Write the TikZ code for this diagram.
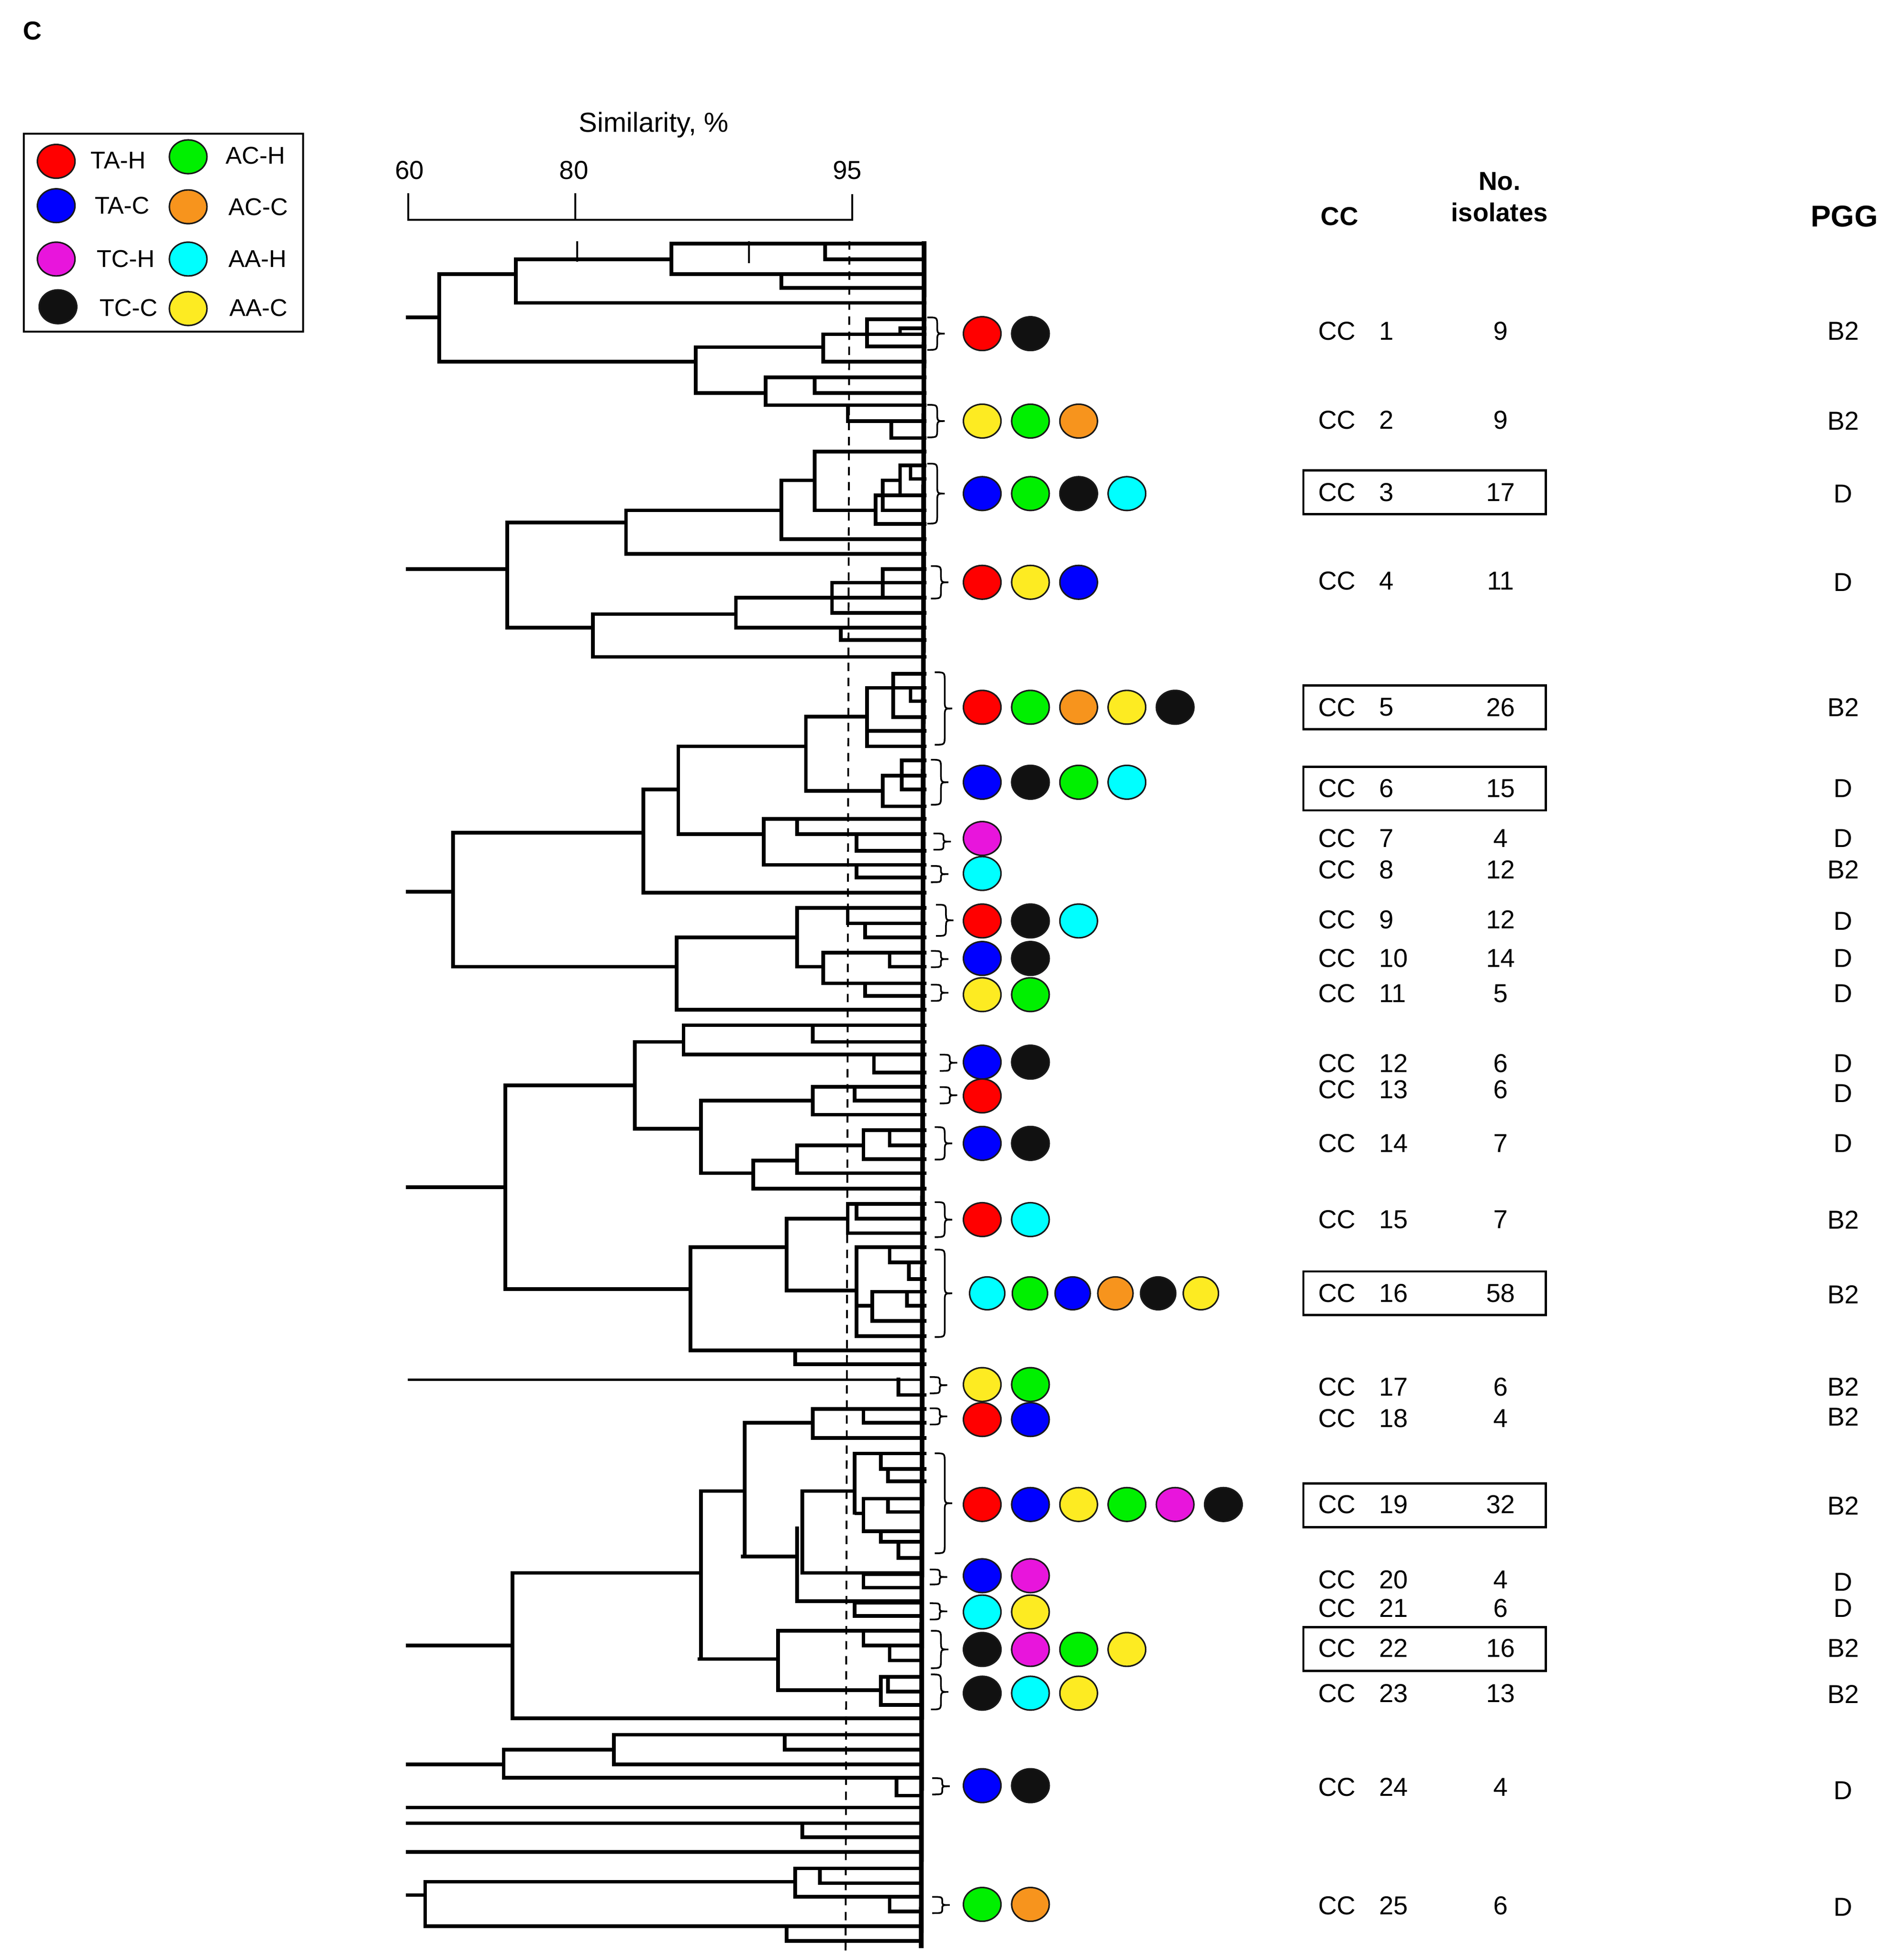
\documentclass[tikz,border=0pt]{standalone}
\usepackage{fontspec}
\setmainfont{Liberation Sans}
\usetikzlibrary{shapes.geometric}
\definecolor{tah}{RGB}{255,0,0}
\definecolor{tac}{RGB}{0,0,255}
\definecolor{tch}{RGB}{232,21,220}
\definecolor{tcc}{RGB}{17,17,17}
\definecolor{ach}{RGB}{0,240,0}
\definecolor{acc}{RGB}{247,148,29}
\definecolor{aah}{RGB}{0,255,255}
\definecolor{aac}{RGB}{253,235,34}

\tikzset{
  dendro/.style={line width=2.2pt,line cap=rect},
  dot/.style={ellipse,draw=black!90,line width=0.9pt,minimum width=7.9mm,minimum height=7.1mm,inner sep=0pt},
  bracestyle/.style={line width=1pt},
  rowfont/.style={font=\fontsize{15.5}{18}\selectfont},
  headfont/.style={font=\bfseries\fontsize{15.5}{18}\selectfont},
  legfont/.style={font=\fontsize{14.5}{17}\selectfont,inner sep=1pt}
}

% brace: x, top, bottom
\newcommand{\ccbrace}[3]{%
  \pgfmathsetmacro{\bracemid}{(#2+#3)/2}%
  \pgfmathsetmacro{\bracerad}{min(7,(#3-#2)/4)}%
  \draw[bracestyle] (#1,#2) .. controls ({#1+8},#2) .. ({#1+8},{#2+\bracerad})
    -- ({#1+8},{\bracemid-\bracerad}) .. controls ({#1+8},\bracemid) .. ({#1+14},\bracemid)
    .. controls ({#1+8},\bracemid) .. ({#1+8},{\bracemid+\bracerad})
    -- ({#1+8},{#3-\bracerad}) .. controls ({#1+8},#3) .. (#1,#3);}

\begin{document}
\begin{tikzpicture}[x=0.02626cm,y=-0.02626cm]
\useasboundingbox (0,0) rectangle (39.76cm,-41.19cm);

% panel letter, legend and similarity scale
\begin{scope}[x=0.012436cm,y=-0.004783cm]
  \node[headfont] (panel) at (55,135) {C};
  \draw[line width=1.2pt] (40,588) rectangle (512,1460);
  \foreach \c/\t/\cx/\cy/\tx/\ty in {tah/TA-H/95/710/150/705, tac/TA-C/95/905/157/905,
      tch/TC-H/95/1140/160/1140, tcc/TC-C/98/1350/165/1355,
      ach/AC-H/318/690/378/685, acc/AC-C/318/910/383/910,
      aah/AA-H/318/1140/383/1140, aac/AA-C/318/1358/385/1355}{
    \node[dot,fill=\c] (key-\c) at (\cx,\cy) {};
    \node[legfont,anchor=west] (lab-\c) at (\tx,\ty) {\t};
  }
  \node[font=\fontsize{16.5}{19}\selectfont] (simtitle) at (1105,550) {Similarity, \%};
  \draw[line width=1.2pt] (690,850) -- (690,968) -- (1440,968) -- (1440,855);
  \draw[line width=1.2pt] (972,850) -- (972,968);
  \node[rowfont] (s60) at (692,750) {60};
  \node[rowfont] (s80) at (970,750) {80};
  \node[rowfont] (s95) at (1432,750) {95};
\end{scope}

% dendrogram, upper part
\begin{scope}[shift={(8.2cm,-4.5cm)},x=0.007334cm,y=-0.00574cm]
  \foreach \y/\xa/\xb in {108/805/1530, 165/1245/1530, 220/805/1530, 270/1120/1530, 165/360/805,
      325/360/1530, 220/140/360, 378/50/140, 385/1370/1530, 418/1460/1530, 440/1240/1530,
      485/1365/1530, 540/1240/1530, 487/875/1240, 540/140/875, 655/875/1075, 598/1075/1530,
      655/1215/1530, 700/1075/1530, 758/1310/1530, 820/1435/1530, 870/1215/1530, 920/1460/1530,
      970/1490/1530, 1030/1390/1530, 975/1410/1460, 1085/1410/1530, 1135/1390/1530,
      1085/1215/1390, 975/1120/1215, 1190/1120/1530, 1085/675/1120, 1245/675/1530,
      1130/335/675, 1300/50/335, 1515/335/580, 1465/580/990, 1405/990/1530, 1300/1410/1530,
      1350/1265/1530, 1460/1265/1530, 1515/990/1530, 1560/1290/1530, 1622/580/1530}
    {\draw[dendro] (\xa,\y) -- (\xb,\y);}
  \foreach \x/\ya/\yb in {1245/108/165, 805/108/220, 1120/220/270, 360/165/325, 140/220/540,
      1460/418/440, 1365/385/485, 1240/440/540, 875/487/655, 1075/598/700, 1215/598/655,
      1310/700/758, 1435/758/820, 1490/920/970, 1460/920/1030, 1410/975/1085, 1390/1030/1135,
      1215/870/1085, 1120/975/1190, 675/1085/1245, 335/1130/1515, 580/1465/1622,
      990/1405/1515, 1265/1350/1460, 1410/1300/1405, 1290/1515/1560}
    {\draw[dendro] (\x,\ya) -- (\x,\yb);}
  \draw[line width=1.2pt] (535,100) -- (535,175);
  \draw[line width=1.2pt] (1027,100) -- (1027,180);
\end{scope}

% dendrogram, second part
\begin{scope}[shift={(8.2cm,-13.4cm)},x=0.007334cm,y=-0.005867cm]
  \foreach \y/\xa/\xb in {130/1440/1530, 180/1365/1530, 228/1490/1530, 285/1440/1530,
      335/1365/1530, 390/1365/1530, 283/1190/1365, 440/1465/1530, 495/1410/1530,
      545/1465/1530, 605/1410/1530, 550/1190/1410, 390/825/1190, 705/825/1070, 650/1070/1530,
      705/1165/1530, 765/1335/1530, 815/1070/1530, 860/1335/1530, 545/725/825, 915/725/1530,
      700/180/725, 912/50/180, 1180/180/820, 1075/820/1165, 970/1165/1530, 1025/1310/1530,
      1075/1360/1530, 1180/1165/1240, 1130/1240/1530, 1180/1430/1530, 1240/1240/1530,
      1285/1360/1530, 1335/820/1530, 1390/840/1530, 1450/1210/1530, 1495/840/1530,
      1450/700/840, 1560/1385/1530}
    {\draw[dendro] (\xa,\y) -- (\xb,\y);}
  \foreach \x/\ya/\yb in {1440/130/285, 1490/180/228, 1365/180/390, 1190/283/550, 1465/440/545,
      1410/495/605, 825/390/705, 1070/650/815, 1165/650/705, 1335/705/765, 1335/815/860,
      725/545/915, 180/700/1180, 820/1075/1335, 1165/970/1180, 1310/970/1025, 1360/1025/1075,
      1240/1130/1240, 1430/1130/1180, 1360/1240/1285, 840/1390/1495, 1210/1390/1450,
      700/1450/1759, 1385/1495/1560}
    {\draw[dendro] (\x,\ya) -- (\x,\yb);}
\end{scope}

% dendrogram, third part
\begin{scope}[shift={(8.2cm,-22.4cm)},x=0.007334cm,y=-0.005867cm]
  \foreach \y/\xa/\xb in {225/700/890, 70/330/700, 435/50/330, 125/890/1210, 75/1210/1530,
      125/1330/1530, 175/1210/1530, 385/890/1040, 340/1040/1165, 285/1165/1355,
      230/1355/1530, 285/1430/1530, 335/1355/1530, 385/1165/1530, 440/1040/1530,
      800/330/860, 650/860/1135, 548/1135/1310, 495/1310/1530, 548/1335/1530, 600/1310/1530,
      805/1135/1335, 650/1335/1530, 705/1430/1530, 765/1485/1530, 810/1380/1530,
      860/1480/1530, 860/1335/1380, 915/1380/1530, 970/1335/1530, 1020/860/1530,
      1070/1160/1530, 1180/1455/1530, 1230/1210/1530, 1280/1355/1530, 1335/1210/1530,
      1280/1015/1210, 1390/1330/1530, 1445/1405/1530, 1490/1425/1530, 1525/1180/1330,
      1525/890/1015}
    {\draw[dendro] (\xa,\y) -- (\xb,\y);}
  \draw[line width=1.4pt] (50,1125) -- (1530,1125);
  \foreach \x/\ya/\yb in {330/70/800, 890/125/385, 1210/75/175, 1330/75/125, 1040/340/440,
      1165/285/385, 1355/230/335, 1430/230/285, 860/650/1020, 1135/548/805, 1310/495/600,
      1335/495/548, 1335/650/970, 1430/650/705, 1485/705/765, 1380/810/915, 1480/810/860,
      1160/1020/1070, 1455/1125/1180, 1210/1230/1335, 1355/1230/1280, 1015/1280/1758,
      1330/1390/1603, 1405/1390/1445, 1425/1445/1490, 1180/1525/1816, 890/1525/2125}
    {\draw[dendro] (\x,\ya) -- (\x,\yb);}
\end{scope}

% dendrogram, lower part
\begin{scope}[shift={(8.2cm,-31.4cm)},x=0.007334cm,y=-0.006244cm]
  \foreach \y/\xa/\xb in {65/1335/1355, 15/1355/1520, 60/1425/1520, 125/1355/1520,
      160/1405/1520, 215/1455/1520, 210/1010/1165, 265/1180/1520, 270/1355/1520,
      315/1355/1520, 360/1165/1520, 365/1330/1520, 410/1330/1520, 460/1110/1520,
      510/1355/1520, 560/1430/1520, 555/885/1110, 265/355/885, 615/1405/1520, 665/1425/1520,
      710/1405/1520, 660/1110/1405, 510/50/350, 755/350/1520, 810/640/1520, 860/1130/1520,
      910/640/1520, 860/325/640, 910/50/325, 955/325/1520, 1015/1450/1520, 1055/50/1520,
      1108/50/1520, 1155/1180/1520, 1205/50/1520, 1260/1160/1520, 1310/1230/1520,
      1355/1160/1520, 1305/100/1160, 1350/50/100, 1455/100/1520, 1405/1430/1520,
      1505/1135/1520}
    {\draw[dendro] (\xa,\y) -- (\xb,\y);}
  \foreach \x/\ya/\yb in {1355/15/125, 1425/15/60, 1405/125/160, 1455/160/215, 1165/115/360,
      1355/270/315, 1330/360/410, 1355/460/510, 1430/510/560, 1110/460/660, 1405/615/710,
      1425/615/665, 350/265/755, 640/810/910, 1130/810/860, 325/860/955, 1450/955/1015,
      1180/1108/1155, 1160/1260/1355, 1230/1260/1310, 100/1305/1455, 1430/1355/1405,
      1135/1455/1505}
    {\draw[dendro] (\x,\ya) -- (\x,\yb);}
\end{scope}

% leaf edge and 95% cut-off
\draw[line width=2.8pt] (19.42cm,-5.07cm) -- (19.36cm,-40.94cm);
\draw[line width=1.1pt,dash pattern=on 5pt off 4pt] (17.85cm,-5.07cm) -- (17.77cm,-41.11cm);

% braces
\foreach \bx/\bt/\bb in {742/254/280, 742/324/350, 742/371/419, 745/453/479, 748/538/596,
    745/608/644, 747/667/680, 745/693/706, 749/724/749, 745/761/774, 745/788/801,
    752/844/857, 752/870/883, 748/902/928, 748/962/990, 748/1000/1070, 744/1102/1115,
    744/1127/1140, 748/1163/1243, 744/1256/1268, 744/1283/1296, 745/1305/1335,
    745/1340/1368, 746/1423/1436, 746/1518/1531}
  {\ccbrace{\bx}{\bt}{\bb}}

% coloured dots
\foreach \y/\cols in {267/{tah,tcc}, 337/{aac,ach,acc}, 395/{tac,ach,tcc,aah},
    466/{tah,aac,tac}, 566/{tah,ach,acc,aac,tcc}, 626/{tac,tcc,ach,aah}, 671/{tch},
    699/{aah}, 737/{tah,tcc,aah}, 767/{tac,tcc}, 796/{aac,ach}, 850/{tac,tcc}, 877/{tah},
    915/{tac,tcc}, 976/{tah,aah}, 1108/{aac,ach}, 1136/{tah,tac},
    1204/{tah,tac,aac,ach,tch,tcc}, 1261/{tac,tch}, 1290/{aah,aac},
    1320/{tcc,tch,ach,aac}, 1355/{tcc,aah,aac}, 1429/{tac,tcc}, 1524/{ach,acc}}{
  \foreach \c [count=\i from 0] in \cols
    {\node[dot,fill=\c] (dot-\y-\i) at ({786+38.6*\i},\y) {};}
}
\foreach \c [count=\i from 0] in {aah,ach,tac,acc,tcc,aac}
  {\node[dot,fill=\c,minimum width=7.4mm,minimum height=6.9mm] (dot-1035-\i) at ({790+34.2*\i},1035) {};}

% column heads
\node[headfont] (hcc) at (1072,173) {CC};
\node[headfont] (hno) at (1200,145) {No.};
\node[headfont] (hiso) at (1200,170) {isolates};
\node[font=\bfseries\fontsize{18}{21}\selectfont] (hpgg) at (1476,173) {PGG};

% clonal complexes
\foreach \n/\y/\cnt/\pg/\py in {1/265/9/B2/265, 2/336/9/B2/337, 3/394/17/D/395, 4/465/11/D/466,
    5/566/26/B2/566, 6/631/15/D/631, 7/671/4/D/671, 8/696/12/B2/696, 9/736/12/D/737,
    10/767/14/D/767, 11/795/5/D/795, 12/851/6/D/851, 13/872/6/D/875, 14/915/7/D/915,
    15/976/7/B2/976, 16/1035/58/B2/1036, 17/1110/6/B2/1110, 18/1135/4/B2/1134,
    19/1204/32/B2/1205, 20/1264/4/D/1266, 21/1287/6/D/1287, 22/1319/16/B2/1319,
    23/1355/13/B2/1356, 24/1430/4/D/1433, 25/1525/6/D/1526}{
  \node[rowfont] (cc\n) at (1070,\y) {CC};
  \node[rowfont,anchor=west] (num\n) at (1099,\y) {\n};
  \node[rowfont] (cnt\n) at (1201,\y) {\cnt};
  \node[rowfont] (pgg\n) at (1475,\py) {\pg};
}
\foreach \y in {394,566,631,1035,1204.5,1319.5}
  {\draw[line width=1.4pt] (1043,{\y-17.5}) rectangle (1237,{\y+17.5});}

\end{tikzpicture}
\end{document}
